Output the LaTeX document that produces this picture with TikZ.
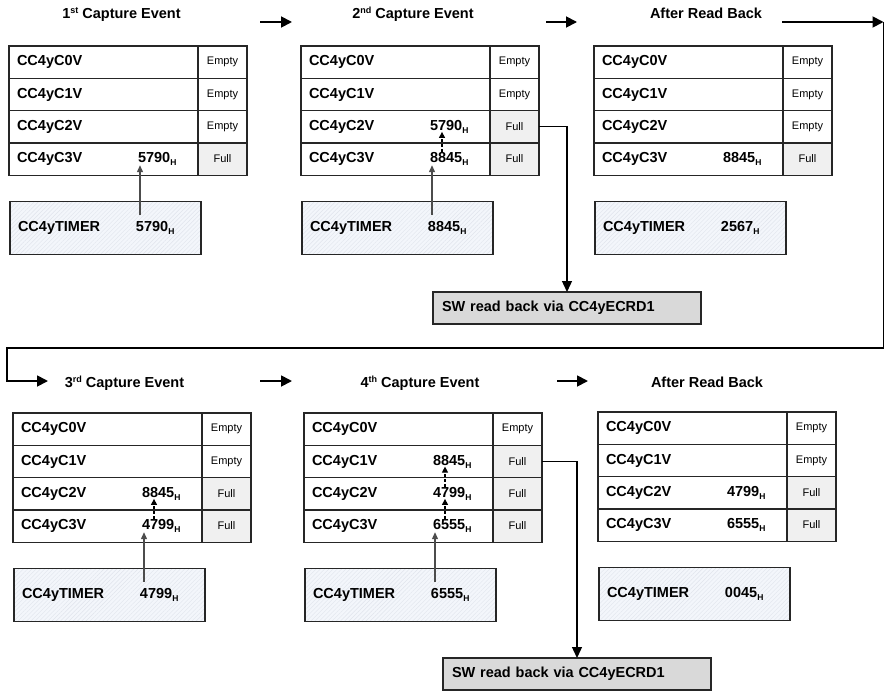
\documentclass[tikz,border=0pt]{standalone}
\usepackage{fontspec}
\setmainfont{Liberation Sans}
\usetikzlibrary{arrows.meta,positioning,patterns.meta}
\definecolor{edge}{HTML}{262626}
\definecolor{fullgray}{HTML}{F0F0F0}
\definecolor{timerblue}{HTML}{F3F6FB}
\definecolor{hatchgray}{HTML}{E0E4EC}
\definecolor{swgray}{HTML}{D9D9D9}
\colorlet{Full}{fullgray}
\colorlet{Empty}{white}
\newcommand{\hx}[1]{#1\raisebox{-3pt}{\fontsize{8.5}{9}\selectfont H}}
\newcommand{\nth}[1]{\raisebox{5pt}{\fontsize{9}{9}\selectfont #1}}

\begin{document}
\begin{tikzpicture}[x=1pt,y=-1pt,
  reg/.style={draw=edge,line width=1.3pt,outer sep=0pt,inner ysep=0pt,inner xsep=8pt,
    text width=173pt,minimum height=32.3pt,align=left,anchor=north west,
    font=\fontsize{14.5}{16}\selectfont\bfseries},
  stat/.style={draw=edge,line width=1.3pt,outer sep=0pt,inner sep=0pt,
    minimum width=49pt,minimum height=32.3pt,font=\fontsize{11}{13}\selectfont},
  timer/.style={line width=1.3pt,outer sep=0pt,inner ysep=0pt,inner xsep=8pt,
    text width=175pt,minimum height=53pt,align=left,anchor=north west,
    preaction={fill=timerblue},
    pattern={Lines[angle=45,distance=3pt,line width=0.4pt]},pattern color=hatchgray,
    postaction={draw=edge},
    font=\fontsize{14.5}{16}\selectfont\bfseries},
  swbox/.style={draw=edge,line width=1.3pt,fill=swgray,outer sep=0pt,inner ysep=0pt,inner xsep=9pt,
    text width=250pt,minimum height=32pt,align=left,anchor=north west,
    font=\fontsize{14.5}{16}\selectfont\bfseries},
  title/.style={anchor=base,font=\fontsize{14.5}{16}\selectfont\bfseries},
  flow/.style={-{Triangle[length=11pt,width=11pt]},line width=1.8pt},
  readout/.style={-{Triangle[length=11pt,width=10pt]},line width=1.3pt},
  feed/.style={-{Triangle[length=7pt,width=6pt]},line width=1.2pt,draw=black!70},
  push/.style={-{Triangle[length=6pt,width=6pt]},line width=1.2pt,dash pattern=on 3pt off 2pt}
]
\useasboundingbox (0,0) rectangle (885,690);

% titles
\node[title] (t1) at (121.5,19) {1\nth{st} Capture Event};
\node[title] (t2) at (413,19) {2\nth{nd} Capture Event};
\node[title] (t3) at (706,19) {After Read Back};
\node[title] (t4) at (124.5,387) {3\nth{rd} Capture Event};
\node[title] (t5) at (420,387) {4\nth{th} Capture Event};
\node[title] (t6) at (707,387) {After Read Back};

% 1st capture
\begin{scope}[shift={(9,46)}]
\foreach \k/\val/\st in {0/{}/Empty,1/{}/Empty,2/{}/Empty,3/{\hx{5790}}/Full}{
  \node[reg] (p1r\k) at (0,32.3*\k) {\makebox[121pt][l]{CC4yC\k V}\val};
  \node[stat,fill=\st,right=0pt of p1r\k] (p1s\k) {\st};
}
\node[timer] (p1t) at (1,155.5) {\makebox[118pt][l]{CC4yTIMER}\hx{5790}};
\end{scope}

% 2nd capture
\begin{scope}[shift={(301,46)}]
\foreach \k/\val/\st in {0/{}/Empty,1/{}/Empty,2/{\hx{5790}}/Full,3/{\hx{8845}}/Full}{
  \node[reg] (p2r\k) at (0,32.3*\k) {\makebox[121pt][l]{CC4yC\k V}\val};
  \node[stat,fill=\st,right=0pt of p2r\k] (p2s\k) {\st};
}
\node[timer] (p2t) at (1,155.5) {\makebox[118pt][l]{CC4yTIMER}\hx{8845}};
\end{scope}

% after read back
\begin{scope}[shift={(594,46)}]
\foreach \k/\val/\st in {0/{}/Empty,1/{}/Empty,2/{}/Empty,3/{\hx{8845}}/Full}{
  \node[reg] (p3r\k) at (0,32.3*\k) {\makebox[121pt][l]{CC4yC\k V}\val};
  \node[stat,fill=\st,right=0pt of p3r\k] (p3s\k) {\st};
}
\node[timer] (p3t) at (1,155.5) {\makebox[118pt][l]{CC4yTIMER}\hx{2567}};
\end{scope}

% 3rd capture
\begin{scope}[shift={(13,413)}]
\foreach \k/\val/\st in {0/{}/Empty,1/{}/Empty,2/{\hx{8845}}/Full,3/{\hx{4799}}/Full}{
  \node[reg] (p4r\k) at (0,32.3*\k) {\makebox[121pt][l]{CC4yC\k V}\val};
  \node[stat,fill=\st,right=0pt of p4r\k] (p4s\k) {\st};
}
\node[timer] (p4t) at (1,155.5) {\makebox[118pt][l]{CC4yTIMER}\hx{4799}};
\end{scope}

% 4th capture
\begin{scope}[shift={(304,413)}]
\foreach \k/\val/\st in {0/{}/Empty,1/{\hx{8845}}/Full,2/{\hx{4799}}/Full,3/{\hx{6555}}/Full}{
  \node[reg] (p5r\k) at (0,32.3*\k) {\makebox[121pt][l]{CC4yC\k V}\val};
  \node[stat,fill=\st,right=0pt of p5r\k] (p5s\k) {\st};
}
\node[timer] (p5t) at (1,155.5) {\makebox[118pt][l]{CC4yTIMER}\hx{6555}};
\end{scope}

% after read back
\begin{scope}[shift={(598,412)}]
\foreach \k/\val/\st in {0/{}/Empty,1/{}/Empty,2/{\hx{4799}}/Full,3/{\hx{6555}}/Full}{
  \node[reg] (p6r\k) at (0,32.3*\k) {\makebox[121pt][l]{CC4yC\k V}\val};
  \node[stat,fill=\st,right=0pt of p6r\k] (p6s\k) {\st};
}
\node[timer] (p6t) at (1,155.5) {\makebox[118pt][l]{CC4yTIMER}\hx{0045}};
\end{scope}

\node[swbox] (sw1) at (433,292) {SW read back via CC4yECRD1};
\node[swbox] (sw2) at (443,658) {SW read back via CC4yECRD1};

% capture paths
\draw[feed] ([shift={(130,13)}]p1t.north west) -- ([shift={(131,-10)}]p1r3.south west);
\draw[feed] ([shift={(130,13)}]p2t.north west) -- ([shift={(131,-10)}]p2r3.south west);
\draw[push] ([shift={(141,9)}]p2r3.north west) -- ([shift={(141,-11)}]p2r2.south west);
\draw[feed] ([shift={(130,13)}]p4t.north west) -- ([shift={(131,-10)}]p4r3.south west);
\draw[push] ([shift={(141,9)}]p4r3.north west) -- ([shift={(141,-11)}]p4r2.south west);
\draw[feed] ([shift={(130,13)}]p5t.north west) -- ([shift={(131,-10)}]p5r3.south west);
\draw[push] ([shift={(141,9)}]p5r3.north west) -- ([shift={(141,-11)}]p5r2.south west);
\draw[push] ([shift={(141,9)}]p5r2.north west) -- ([shift={(141,-11)}]p5r1.south west);

% read back
\draw[readout] (p2s2.east) -| (sw1.north);
\draw[readout] (p5s1.east) -| (sw2.north);

% sequence arrows
\coordinate (a12s) at (260,22);  \coordinate (a12e) at (292,22);
\coordinate (a23s) at (546,22);  \coordinate (a23e) at (577,22);
\coordinate (a45s) at (260,381); \coordinate (a45e) at (292,381);
\coordinate (a56s) at (557,381); \coordinate (a56e) at (588,381);
\coordinate (a3out) at (782,22);
\coordinate (loopne) at (883.5,22);
\coordinate (loopse) at (883.5,348);
\coordinate (loopsw) at (7,348);
\coordinate (loopin) at (48,381);
\draw[flow] (a12s) -- (a12e);
\draw[flow] (a23s) -- (a23e);
\draw[flow] (a45s) -- (a45e);
\draw[flow] (a56s) -- (a56e);
\draw[flow] (a3out) -- (loopne);
\draw[flow] (loopne) -- (loopse) -- (loopsw) |- (loopin);
\end{tikzpicture}
\end{document}
